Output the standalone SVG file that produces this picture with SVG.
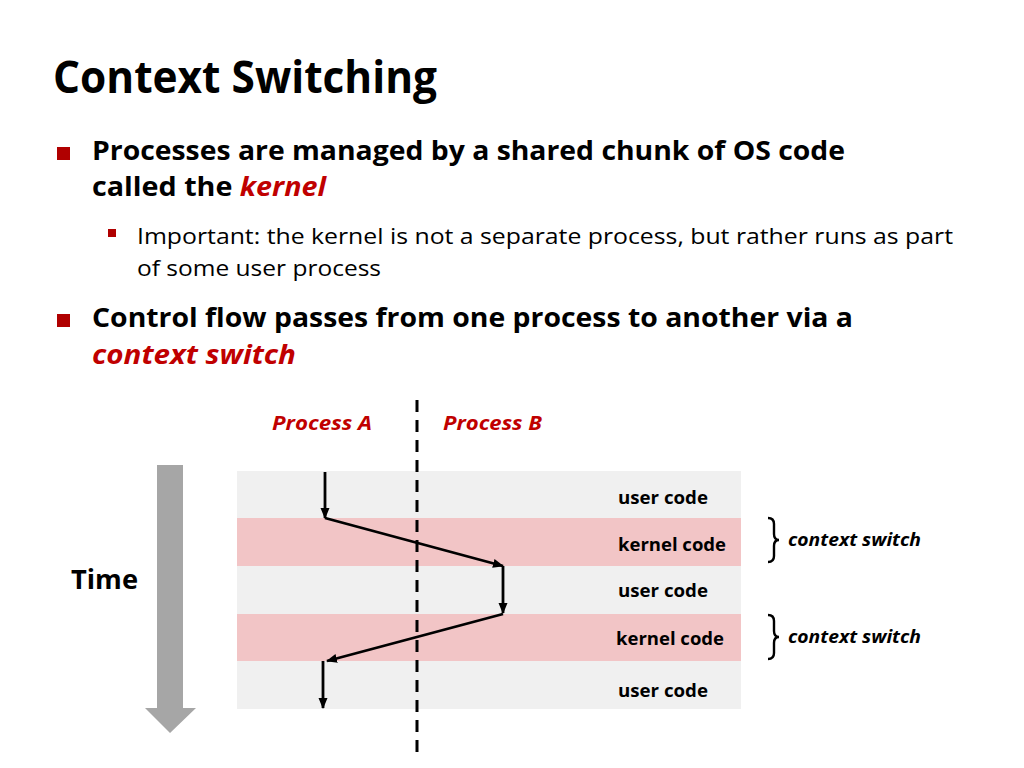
<svg xmlns="http://www.w3.org/2000/svg" width="1024" height="768" viewBox="0 0 1024 768">
<defs>
<style>
.t{font-family:"Open Sans","Liberation Sans",sans-serif;fill:#000}
.b{font-weight:bold}
.i{font-style:italic}
.red{fill:#c00000}
.lbl{font-family:"Open Sans","Liberation Sans",sans-serif;font-weight:bold;font-size:18.5px;fill:#000}
.cs{font-family:"Open Sans","Liberation Sans",sans-serif;font-weight:bold;font-style:italic;font-size:18.5px;fill:#000}
.flow{stroke:#000;stroke-width:2.8;fill:none;marker-end:url(#ah)}
.brace{stroke:#000;stroke-width:2.4;fill:none}
.user{fill:#f0f0f0}
.kern{fill:#f2c5c6}
</style>
<marker id="ah" markerWidth="11" markerHeight="11" refX="10" refY="5.5" orient="auto" markerUnits="userSpaceOnUse">
<path d="M0,1 L11,5.5 L0,10 Z" fill="#000"/>
</marker>
</defs>
<rect width="1024" height="768" fill="#fff"/>

<g id="title">
<text class="t b" x="53" y="93" font-size="44" textLength="384" lengthAdjust="spacingAndGlyphs">Context Switching</text>
</g>

<g id="bullets">
<rect x="57" y="147" width="13" height="13" fill="#b00000"/>
<text class="t b" x="92" y="160" font-size="27" textLength="753" lengthAdjust="spacingAndGlyphs">Processes are managed by a shared chunk of OS code</text>
<text class="t b" x="92" y="196" font-size="27" textLength="234" lengthAdjust="spacingAndGlyphs">called the <tspan class="i red">kernel</tspan></text>
<rect x="108" y="229" width="8" height="8" fill="#b00000"/>
<text class="t" x="137" y="244" font-size="22" textLength="816" lengthAdjust="spacingAndGlyphs">Important: the kernel is not a separate process, but rather runs as part</text>
<text class="t" x="137" y="276" font-size="22" textLength="244" lengthAdjust="spacingAndGlyphs">of some user process</text>
<rect x="57" y="314" width="13" height="13" fill="#b00000"/>
<text class="t b" x="92" y="327" font-size="27" textLength="761" lengthAdjust="spacingAndGlyphs">Control flow passes from one process to another via a</text>
<text class="t b i red" x="92" y="364" font-size="27" textLength="204" lengthAdjust="spacingAndGlyphs">context switch</text>
</g>

<g id="bands">
<rect class="user" x="237" y="471" width="504" height="47"/>
<rect class="kern" x="237" y="518" width="504" height="48"/>
<rect class="user" x="237" y="566" width="504" height="48"/>
<rect class="kern" x="237" y="614" width="504" height="47"/>
<rect class="user" x="237" y="661" width="504" height="48"/>
</g>

<g id="band-labels">
<text class="lbl" x="663" y="504" text-anchor="middle" textLength="90" lengthAdjust="spacingAndGlyphs">user code</text>
<text class="lbl" x="672" y="551" text-anchor="middle" textLength="108" lengthAdjust="spacingAndGlyphs">kernel code</text>
<text class="lbl" x="663" y="597" text-anchor="middle" textLength="90" lengthAdjust="spacingAndGlyphs">user code</text>
<text class="lbl" x="670" y="645" text-anchor="middle" textLength="108" lengthAdjust="spacingAndGlyphs">kernel code</text>
<text class="lbl" x="663" y="697" text-anchor="middle" textLength="90" lengthAdjust="spacingAndGlyphs">user code</text>
</g>

<g id="process-labels">
<text class="t b i red" x="272" y="430" font-size="20" textLength="100" lengthAdjust="spacingAndGlyphs">Process A</text>
<text class="t b i red" x="443" y="430" font-size="20" textLength="99" lengthAdjust="spacingAndGlyphs">Process B</text>
</g>

<g id="divider">
<line x1="417" y1="400" x2="417" y2="752" stroke="#000" stroke-width="3" stroke-dasharray="12,8"/>
</g>

<g id="time">
<polygon points="157,465 183,465 183,708 196,708 170,733 145,708 157,708" fill="#a6a6a6"/>
<text class="t b" x="71" y="589" font-size="26" textLength="67" lengthAdjust="spacingAndGlyphs">Time</text>
</g>

<g id="connectors">
<line class="flow" x1="325" y1="472" x2="325" y2="518"/>
<line class="flow" x1="325" y1="518" x2="503" y2="566"/>
<line class="flow" x1="503" y1="566" x2="503" y2="613"/>
<line class="flow" x1="503" y1="614" x2="327" y2="661"/>
<line class="flow" x1="323" y1="661" x2="323" y2="708"/>
</g>

<g id="switch1">
<path class="brace" d="M768,518 Q774,518 774,524 L774,534 Q774,540 779,540 Q774,540 774,546 L774,556 Q774,562 768,562"/>
<text class="cs" x="788" y="546" textLength="133" lengthAdjust="spacingAndGlyphs">context switch</text>
</g>
<g id="switch2">
<path class="brace" d="M768,615 Q774,615 774,621 L774,631 Q774,637 779,637 Q774,637 774,643 L774,653 Q774,659 768,659"/>
<text class="cs" x="788" y="643" textLength="133" lengthAdjust="spacingAndGlyphs">context switch</text>
</g>
</svg>
